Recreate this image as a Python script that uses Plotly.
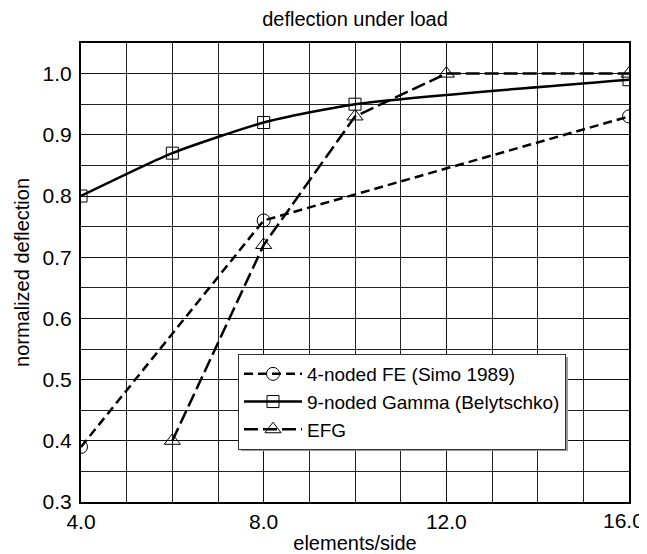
import plotly.graph_objects as go

fe_x = [4, 8, 16]
fe_y = [0.39, 0.76, 0.93]
gamma_x = [4, 6, 8, 10, 16]
gamma_y = [0.80, 0.87, 0.92, 0.95, 0.99]
efg_x = [6, 8, 10, 12, 16]
efg_y = [0.40, 0.72, 0.93, 1.00, 1.00]
x_ticks = [4, 8, 12, 16]
x_labels = ["4.0", "8.0", "12.0", "16.0"]

# page body has an 8px default margin; figure is sized to fit the window
OFF = 8
W, H = 647 - OFF, 554 - OFF
L, R, T, B = 81 - OFF, 18, 43 - OFF, 52
PW, PH = W - L - R, H - T - B

def px(xp):
    return (xp - OFF - L) / PW

def py(yp):
    return (H + OFF - B - yp) / PH

fig = go.Figure()
fig.add_trace(go.Scatter(x=fe_x, y=fe_y, mode="lines+markers", name="4-noded FE (Simo 1989)",
                         line=dict(color="black", width=2.5, dash="9px,5px"),
                         marker=dict(symbol="circle-open", size=13, color="black", line=dict(width=1))))
fig.add_trace(go.Scatter(x=gamma_x, y=gamma_y, mode="lines+markers", name="9-noded Gamma (Belytschko)",
                         line=dict(color="black", width=2.5, shape="spline", smoothing=0.6),
                         marker=dict(symbol="square-open", size=12, color="black", line=dict(width=1))))
fig.add_trace(go.Scatter(x=efg_x, y=efg_y, mode="lines+markers", name="EFG",
                         line=dict(color="black", width=2.5, dash="14px,5px"),
                         marker=dict(symbol="triangle-up-open", size=14, color="black", line=dict(width=1))))

# legend drop shadow
fig.add_shape(type="rect", xref="paper", yref="paper",
              x0=px(241), x1=px(568), y0=py(451), y1=py(357),
              fillcolor="#999999", line=dict(width=0), layer="above")

# last x tick label, kept inside the page edge
fig.add_annotation(text=x_labels[-1], xref="paper", yref="paper",
                   x=(W - 1 - L) / PW, y=py(520), xanchor="right", yanchor="middle",
                   showarrow=False, font=dict(size=21))

fig.update_layout(
    width=W, height=H,
    margin=dict(l=L, r=R, t=T, b=B),
    paper_bgcolor="white", plot_bgcolor="white",
    font=dict(family="Liberation Sans, Arial, sans-serif", color="black", size=20),
    title=dict(text="deflection under load", x=(L + PW / 2) / W, xanchor="center",
               y=1 - (19 - OFF) / H, yanchor="middle", font=dict(size=20)),
    showlegend=True,
    legend=dict(x=px(238), y=py(354), xanchor="left", yanchor="top",
                bgcolor="white", bordercolor="#333333", borderwidth=1,
                font=dict(size=19), tracegroupgap=0, itemwidth=58),
    xaxis=dict(range=[4, 16], tickvals=x_ticks, ticktext=x_labels[:-1] + [""],
               showgrid=True, gridcolor="#111111", gridwidth=1,
               minor=dict(dtick=1, showgrid=True, gridcolor="#222222", gridwidth=1),
               showline=True, linecolor="black", linewidth=2, mirror=True,
               ticks="", tickfont=dict(size=21), ticklabelstandoff=0,
               title=dict(text="elements/side", font=dict(size=20), standoff=4),
               zeroline=False, automargin=False),
    yaxis=dict(range=[0.3, 1.05], tick0=0.3, dtick=0.1, tickformat=".1f",
               showgrid=True, gridcolor="#111111", gridwidth=1,
               minor=dict(dtick=0.05, showgrid=True, gridcolor="#222222", gridwidth=1),
               showline=True, linecolor="black", linewidth=2, mirror=True,
               ticks="", tickfont=dict(size=21), ticklabelstandoff=3,
               title=dict(text="normalized deflection", font=dict(size=20), standoff=8),
               zeroline=False, automargin=False),
)

fig.write_html("out.html")
